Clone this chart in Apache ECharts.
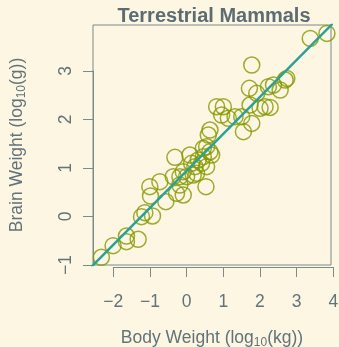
<!DOCTYPE html>
<html><head><meta charset="utf-8">
<script src="https://cdn.jsdelivr.net/npm/echarts@6/dist/echarts.min.js"></script>
<style>html,body{margin:0;padding:0;background:#fdf6e3;}#c{width:339px;height:347px;}</style>
</head><body><div id="c"></div>
<script>
// log10 body weight (kg)
const bodyLog = [-2.317,-1.999,-1.635,-1.635,-1.317,-1.226,-1.135,-0.926,-0.999,-0.981,-0.726,-0.563,-0.363,-0.317,-0.272,-0.09,-0.181,-0.09,0.001,0.092,0.137,0.228,0.274,0.319,0.41,0.456,0.528,0.546,0.456,0.546,0.592,0.637,0.637,0.683,0.819,1.001,0.955,1.137,1.319,1.501,1.547,1.774,1.71,1.774,1.91,1.728,2.001,2.137,2.274,2.228,2.365,2.547,2.683,2.728,3.365,3.819,-0.181,0.183];
// log10 brain weight (g)
const brainLog = [-0.841,-0.601,-0.402,-0.518,-0.47,-0.003,0.08,0.011,0.616,0.423,0.719,0.306,0.822,1.22,0.478,0.444,0.822,0.925,0.822,1.268,1.097,1.028,0.891,1.165,1.097,1.234,0.616,1.028,1.406,1.44,1.681,1.784,1.337,1.268,2.265,2.265,2.093,2.025,2.059,2.059,1.75,1.921,2.643,3.124,2.54,2.299,2.231,2.265,2.251,2.677,2.712,2.609,2.815,2.849,3.674,3.777,0.65,0.856];
const xTicks = [-2,-1,0,1,2,3,4];
const yTicks = [-1,0,1,2,3];
const fitIntercept = 0.94;
const fitSlope = 0.764;
const fitX = [-2.6, 4.0];

const points = bodyLog.map((x,i)=>[x, brainLog[i]]);
const fitLine = fitX.map(x=>[x, fitIntercept + fitSlope*x]);

const textCol = '#627379';
const axisCol = '#7b8a8c';
const fmt = v => String(v).replace('-', '\u2212');
const font = 'Liberation Sans, Arial, sans-serif';
const FS = 17.5;
const nameRich = {a:{color:textCol, fontSize:FS, fontFamily:font}, s:{color:textCol, fontSize:12, fontFamily:font, padding:[9,0,0,0]}};
const gridBase = {containLabel:false, outerBoundsMode:'none'};

const chart = echarts.init(document.getElementById('c'), null, {renderer:'canvas'});
chart.setOption({
  backgroundColor: '#fdf6e3',
  animation: false,
  title: {
    text: 'Terrestrial Mammals', left: 209, top: 1, textAlign: 'center',
    textStyle: {color:'#5b6c73', fontSize: 20, fontWeight:'bold', fontFamily: font}
  },
  grid: [
    Object.assign({left: 93, top: 25, width: 238, height: 240, show: true, borderColor: axisCol, borderWidth: 1, backgroundColor:'transparent'}, gridBase),
    Object.assign({left: 113.3, top: 25, width: 220, height: 242}, gridBase),
    Object.assign({left: 93, top: 71, width: 238, height: 194}, gridBase)
  ],
  xAxis: [
    {gridIndex:0, type:'value', min:-2.545, max:3.93,
     axisLine:{show:false}, axisTick:{show:false}, axisLabel:{show:false}, splitLine:{show:false},
     name:'{a|Body Weight (log}{s|10}{a|(kg))}', nameLocation:'middle', nameGap:63,
     nameTextStyle:{rich:nameRich}},
    {gridIndex:1, type:'value', min:-2, max:4, interval:1,
     axisLine:{show:true, lineStyle:{color:axisCol, width:1}},
     axisTick:{show:true, length:10, lineStyle:{color:axisCol}},
     splitLine:{show:false},
     axisLabel:{margin:26, color:textCol, fontSize:FS, fontFamily:font, formatter:fmt}},
    {gridIndex:2, type:'value', min:0, max:1, show:false}
  ],
  yAxis: [
    {gridIndex:0, type:'value', min:-1, max:3.95,
     axisLine:{show:false}, axisTick:{show:false}, axisLabel:{show:false}, splitLine:{show:false},
     name:'{a|Brain Weight (log}{s|10}{a|(g))}', nameLocation:'middle', nameGap:65, nameRotate:90,
     nameTextStyle:{rich:nameRich}},
    {gridIndex:1, type:'value', min:0, max:1, show:false},
    {gridIndex:2, type:'value', min:-1, max:3, interval:1,
     axisLine:{show:true, lineStyle:{color:axisCol, width:1}},
     axisTick:{show:true, length:10, lineStyle:{color:axisCol}},
     splitLine:{show:false},
     axisLabel:{margin:18, rotate:90, color:textCol, fontSize:FS, fontFamily:font, formatter:fmt}}
  ],
  series: [
    {type:'scatter', xAxisIndex:0, yAxisIndex:0, data: points, symbol:'circle', symbolSize:16,
     itemStyle:{color:'rgba(0,0,0,0)', borderColor:'#859900', borderWidth:1.5}, clip:true},
    {type:'line', xAxisIndex:0, yAxisIndex:0, data: fitLine, showSymbol:false, symbol:'none',
     lineStyle:{color:'#2aa198', width:2.5}, clip:true, z:3}
  ]
});
</script></body></html>
